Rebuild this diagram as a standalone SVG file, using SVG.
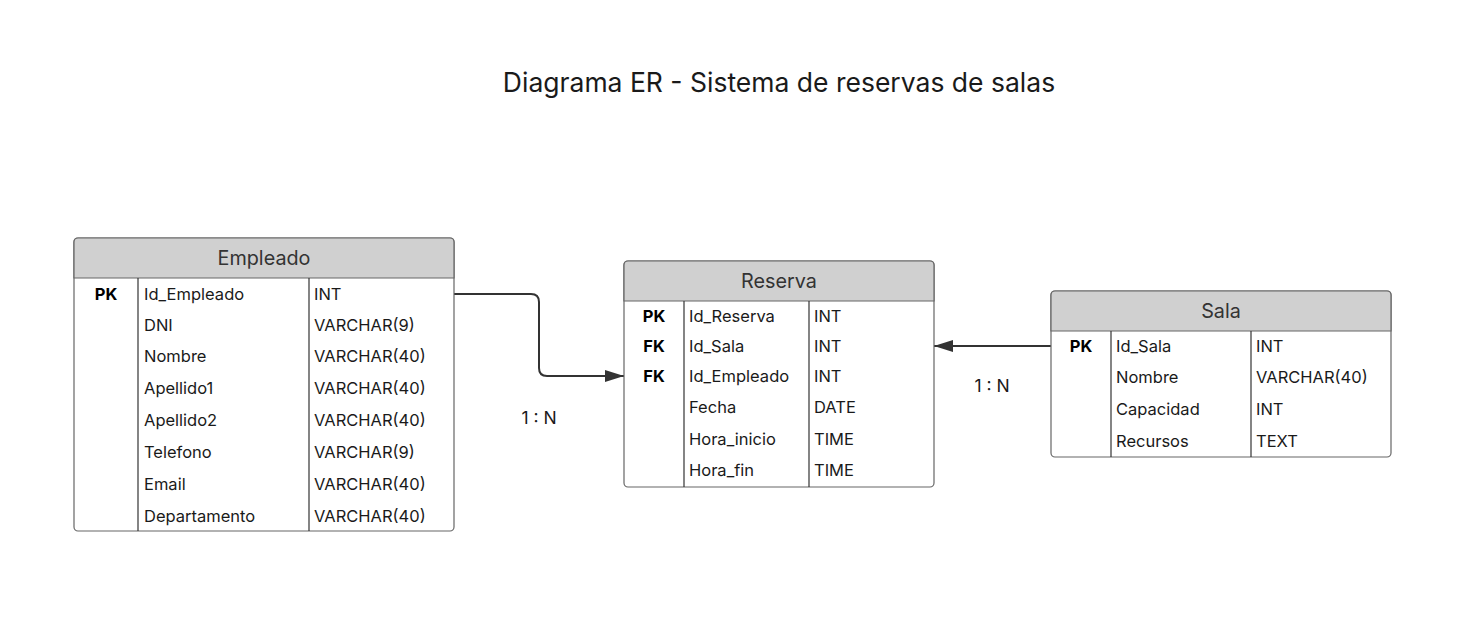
<svg xmlns="http://www.w3.org/2000/svg" width="1472" height="641" viewBox="0 0 1472 641">
<style>
  text { font-family: Inter, "Noto Sans", "Liberation Sans", sans-serif; fill: #1a1a1a; }
  .title { font-size: 26.5px; text-anchor: middle; }
  .hdr { font-size: 19.8px; text-anchor: middle; fill: #333; dominant-baseline: central; }
  .cell { font-size: 16.5px; dominant-baseline: central; }
  .key { font-size: 16.5px; font-weight: bold; text-anchor: middle; dominant-baseline: central; fill: #000; }
  .box { fill: #ffffff; stroke: #666; stroke-width: 1.2; }
  .head { fill: #d0d0d0; stroke: #666; stroke-width: 1.2; }
  .div { stroke: #333; stroke-width: 1.2; }
  .conn { fill: none; stroke: #333; stroke-width: 2; }
  .lbl { font-size: 17.5px; text-anchor: middle; dominant-baseline: central; }
</style>
<defs>
  <marker id="arrow" markerUnits="userSpaceOnUse" markerWidth="20" markerHeight="14" refX="19" refY="6" orient="auto">
    <path d="M0,0 L19,6 L0,12 Z" fill="#333"/>
  </marker>
</defs>
<rect width="1472" height="641" fill="#ffffff"/>
<text class="title" x="779" y="92">Diagrama ER - Sistema de reservas de salas</text>

<g id="connectors">
  <path class="conn" d="M454,294 H531 Q539,294 539,302 V368 Q539,376 547,376 H624" marker-end="url(#arrow)"/>
  <path class="conn" d="M1051,346 H934" marker-end="url(#arrow)"/>
  <text class="lbl" x="539" y="417">1 : N</text>
  <text class="lbl" x="992" y="385">1 : N</text>
</g>

<g id="empleado">
  <rect class="box" x="74" y="238" width="380" height="293" rx="4"/>
  <path class="head" d="M74,278 V242 Q74,238 78,238 H450 Q454,238 454,242 V278 Z"/>
  <line class="div" x1="138" y1="278" x2="138" y2="531"/>
  <line class="div" x1="309" y1="278" x2="309" y2="531"/>
  <text class="hdr" x="264" y="258">Empleado</text>
  <text class="key" x="106" y="294">PK</text>
  <text class="cell" x="144" y="294">Id_Empleado</text><text class="cell" x="314" y="294">INT</text>
  <text class="cell" x="144" y="325">DNI</text><text class="cell" x="314" y="325">VARCHAR(9)</text>
  <text class="cell" x="144" y="356">Nombre</text><text class="cell" x="314" y="356">VARCHAR(40)</text>
  <text class="cell" x="144" y="388">Apellido1</text><text class="cell" x="314" y="388">VARCHAR(40)</text>
  <text class="cell" x="144" y="420">Apellido2</text><text class="cell" x="314" y="420">VARCHAR(40)</text>
  <text class="cell" x="144" y="452">Telefono</text><text class="cell" x="314" y="452">VARCHAR(9)</text>
  <text class="cell" x="144" y="484">Email</text><text class="cell" x="314" y="484">VARCHAR(40)</text>
  <text class="cell" x="144" y="516">Departamento</text><text class="cell" x="314" y="516">VARCHAR(40)</text>
</g>

<g id="reserva">
  <rect class="box" x="624" y="261" width="310" height="226" rx="4"/>
  <path class="head" d="M624,301 V265 Q624,261 628,261 H930 Q934,261 934,265 V301 Z"/>
  <line class="div" x1="684" y1="301" x2="684" y2="487"/>
  <line class="div" x1="809" y1="301" x2="809" y2="487"/>
  <text class="hdr" x="779" y="281">Reserva</text>
  <text class="key" x="654" y="316">PK</text>
  <text class="key" x="654" y="346">FK</text>
  <text class="key" x="654" y="376">FK</text>
  <text class="cell" x="689" y="316">Id_Reserva</text><text class="cell" x="814" y="316">INT</text>
  <text class="cell" x="689" y="346">Id_Sala</text><text class="cell" x="814" y="346">INT</text>
  <text class="cell" x="689" y="376">Id_Empleado</text><text class="cell" x="814" y="376">INT</text>
  <text class="cell" x="689" y="407">Fecha</text><text class="cell" x="814" y="407">DATE</text>
  <text class="cell" x="689" y="439">Hora_inicio</text><text class="cell" x="814" y="439">TIME</text>
  <text class="cell" x="689" y="470">Hora_fin</text><text class="cell" x="814" y="470">TIME</text>
</g>

<g id="sala">
  <rect class="box" x="1051" y="291" width="340" height="166" rx="4"/>
  <path class="head" d="M1051,331 V295 Q1051,291 1055,291 H1387 Q1391,291 1391,295 V331 Z"/>
  <line class="div" x1="1111" y1="331" x2="1111" y2="457"/>
  <line class="div" x1="1251" y1="331" x2="1251" y2="457"/>
  <text class="hdr" x="1221" y="311">Sala</text>
  <text class="key" x="1081" y="346">PK</text>
  <text class="cell" x="1116" y="346">Id_Sala</text><text class="cell" x="1256" y="346">INT</text>
  <text class="cell" x="1116" y="377">Nombre</text><text class="cell" x="1256" y="377">VARCHAR(40)</text>
  <text class="cell" x="1116" y="409">Capacidad</text><text class="cell" x="1256" y="409">INT</text>
  <text class="cell" x="1116" y="441">Recursos</text><text class="cell" x="1256" y="441">TEXT</text>
</g>
</svg>
